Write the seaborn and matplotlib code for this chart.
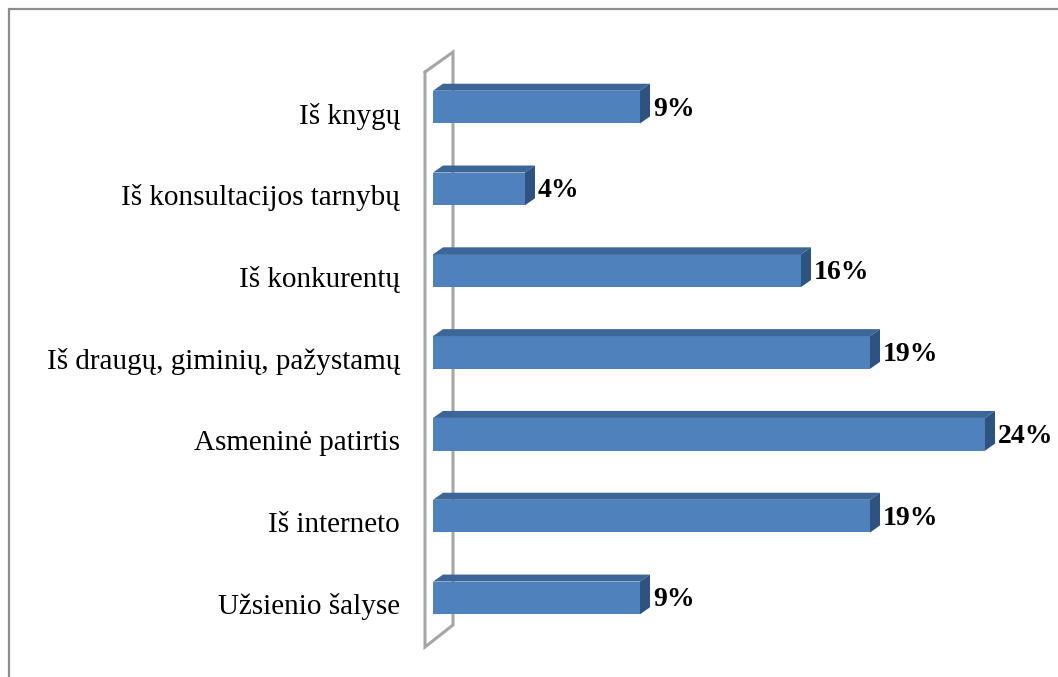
import numpy as np
import matplotlib.pyplot as plt
import seaborn as sns
from matplotlib.patches import Polygon, Rectangle

sns.set_style("white")
plt.rcParams['font.family'] = ['Liberation Serif', 'DejaVu Serif']

# data
categories = ["Iš knygų", "Iš konsultacijos tarnybų", "Iš konkurentų",
              "Iš draugų, giminių, pažystamų", "Asmeninė patirtis",
              "Iš interneto", "Užsienio šalyse"]
values = [9, 4, 16, 19, 24, 19, 9]

W, H = 1058, 677
front_col = "#4F81BD"
top_col = "#3D6698"
side_col = "#2E5381"
wall_col = "#A6A6A6"

fig = plt.figure(figsize=(W / 100, H / 100), dpi=100)
ax = fig.add_axes([433 / W, 30 / H, 575 / W, 589 / H])

sns.barplot(x=values, y=categories, orient="h", color=front_col,
            saturation=1, width=0.40, ax=ax, zorder=2)
ax.set_xlim(0, 25)
ax.set_ylim(6.6, -0.6)
ax.set_axis_off()

# 3d look: depth offset in data units (10px right, 7px up)
dx = 10 * 25 / 575
dy = 7 * 7.2 / 589
for p in ax.patches[:]:
    p.set_edgecolor("none")
    x0, y0, w, h = p.get_x(), p.get_y(), p.get_width(), p.get_height()
    top = Polygon([(x0, y0), (x0 + dx, y0 - dy), (x0 + w + dx, y0 - dy), (x0 + w, y0)],
                  closed=True, fc=top_col, ec="none", zorder=2, clip_on=False)
    side = Polygon([(x0 + w, y0), (x0 + w + dx, y0 - dy), (x0 + w + dx, y0 + h - dy), (x0 + w, y0 + h)],
                   closed=True, fc=side_col, ec="none", zorder=2, clip_on=False)
    ax.add_patch(top)
    ax.add_patch(side)

# value labels
for i, v in enumerate(values):
    ax.annotate(f"{v}%", (v, i), xytext=(13 * 0.72, -2 * 0.72), textcoords="offset points",
                ha="left", va="center", fontsize=20, fontweight="bold", color="black")

# category labels
for i, c in enumerate(categories):
    ax.annotate(c, (0, i), xytext=(-33 * 0.72, -9 * 0.72), textcoords="offset points",
                ha="right", va="center", fontsize=21, color="black")

# side wall outline
wx = np.array([425, 453, 453, 425, 425]) / W
wy = 1 - np.array([72, 52, 625, 647, 72]) / H
ax.plot(wx, wy, transform=fig.transFigure, color=wall_col, lw=2.2,
        clip_on=False, zorder=1, solid_joinstyle="miter")

# chart border
fig.patches.append(Rectangle((9 / W, -0.1), 1.2, 1 - 9 / H + 0.1, transform=fig.transFigure,
                             fill=False, ec="#8C8C8C", lw=1.6))

fig.savefig("out.png", dpi=100, facecolor="white")
